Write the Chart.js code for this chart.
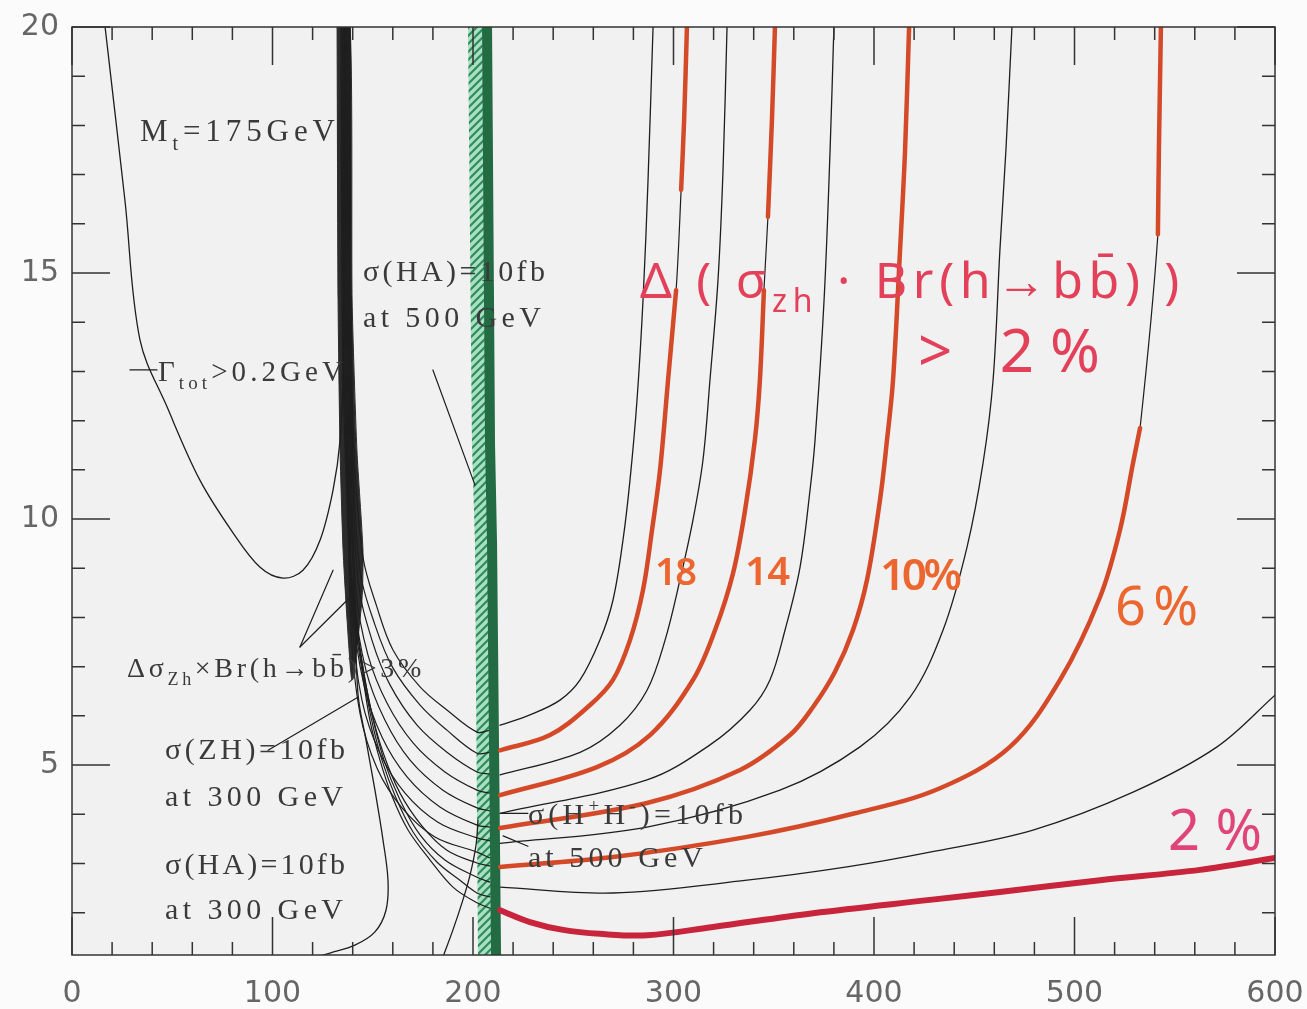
<!DOCTYPE html>
<html>
<head>
<meta charset="utf-8">
<script src="https://cdn.jsdelivr.net/npm/chart.js@4.4.1/dist/chart.umd.min.js"></script>
<style>
  html, body { margin: 0; padding: 0; background: #fbfbfb; }
  canvas { display: block; }
</style>
</head>
<body>
<canvas id="grafico" width="1307" height="1009"></canvas>
<script>
const xTickValues = [0, 100, 200, 300, 400, 500, 600];
const yTickValues = [5, 10, 15, 20];

// Gamma_tot > 0.2 GeV
const gammaTot = [[16.5,20],[26.4,16.48],[33.9,13.64],[47.4,12.28],[63.8,10.79],[80.3,9.72],[93.8,9.02],[105.2,8.80],[115.2,8.96],[123.7,9.57],[130.2,10.59],[133.7,11.6],[135.2,12.97],[135.7,16],[136.2,20]];

// dark band where all contours pile up
const thickBand = [[132.2,20],[132.7,14.45],[133.7,11.40],[135.2,9.37],[137.2,7.95],[139.7,6.73],[144.6,8.35],[145.1,9.37],[142.1,11.40],[139.7,14.45],[138.7,20],[132.2,20]];

// contour fan, left of the green band
const fan20 = [[138.7,20],[139.2,14.45],[140.6,11.40],[145.1,9.23],[152.1,8.21],[160.1,7.34],[173.6,6.59],[187.0,6.12],[202.0,5.67],[208.5,5.71]];
const fan18 = [[138.2,20],[138.7,14.45],[140.1,11.40],[143.6,8.96],[151.1,7.85],[160.1,6.97],[173.6,6.22],[187.0,5.71],[202.0,5.24],[208.5,5.26]];
const fan16 = [[137.7,20],[138.2,14.45],[139.7,11.40],[142.6,8.76],[149.6,7.54],[158.6,6.63],[172.1,5.81],[187.0,5.26],[202.0,4.86],[208.5,4.82]];
const fan14 = [[137.2,20],[137.7,14.45],[139.2,11.40],[141.6,8.56],[147.6,7.24],[157.1,6.26],[170.1,5.45],[186.0,4.86],[202.0,4.49],[208.5,4.43]];
const fan12 = [[136.7,20],[137.2,14.45],[138.7,11.40],[141.1,8.35],[146.6,6.93],[156.1,5.91],[168.6,5.10],[185.0,4.49],[202.0,4.13],[208.5,4.07]];
const fan10 = [[136.2,20],[136.7,14.45],[138.2,11.40],[140.1,8.15],[145.6,6.63],[154.6,5.57],[167.1,4.76],[183.5,4.15],[202.0,3.78],[208.5,3.74]];
const fan8 = [[135.7,20],[136.2,14.45],[137.7,11.40],[139.7,7.95],[144.6,6.32],[153.6,5.24],[166.1,4.43],[182.5,3.84],[202.0,3.52],[208.5,3.46]];
const fan6 = [[135.2,20],[135.7,14.45],[137.2,11.40],[139.2,7.74],[143.6,6.06],[152.1,4.94],[164.6,4.13],[181.0,3.54],[202.0,3.23],[208.5,3.11]];
const fan4 = [[134.7,20],[135.2,14.45],[136.7,11.40],[139.7,8.56],[144.6,7.13],[149.1,6.12],[155.6,5.10],[163.6,4.29],[173.6,3.58],[186.0,3.07],[202.0,2.72],[208.5,2.62]];
const fan2 = [[134.2,20],[134.7,14.45],[136.2,11.40],[139.7,8.35],[144.6,6.93],[148.6,5.91],[153.6,5.10],[159.6,4.37],[167.6,3.68],[178.6,3.07],[190.0,2.52],[202.0,2.20],[208.5,2.09]];
const fanExtraA = [[138.7,9.17],[143.6,7.34],[148.6,6.22],[155.1,5.26],[163.6,4.43],[174.6,3.76],[187.0,3.27],[202.0,3.01],[208.5,2.95]];
const fanExtraB = [[139.2,8.76],[144.6,7.03],[149.1,5.98],[154.6,5.10],[161.6,4.33],[170.1,3.64],[182.0,3.03],[193.5,2.66],[202.0,2.40],[208.5,2.32]];

// contours right of the band: black ones
const right20 = [[213.5,5.81],[228.4,6.02],[243.4,6.32],[253.4,6.73],[263.3,7.54],[269.8,8.35],[274.8,9.57],[278.3,10.79],[281.8,12.42],[284.8,14.45],[287.3,16.89],[289.8,20]];
const right16 = [[213.5,4.80],[253.4,5.26],[273.3,5.81],[286.8,6.52],[295.8,7.54],[303.2,8.76],[309.7,9.98],[314.7,11.20],[318.2,12.83],[322.2,14.86],[324.7,17.09],[326.7,20]];
const right12 = [[213.5,4.02],[286.8,4.70],[318.2,5.41],[338.2,6.12],[348.1,6.73],[355.6,7.74],[363.1,9.02],[368.1,10.59],[370.6,11.61],[375.1,14.45],[378.1,17.50],[380.0,20]];
const right8 = [[213.5,3.41],[286.8,3.74],[353.1,4.49],[393.0,5.37],[418.0,6.38],[434.4,7.74],[446.4,9.43],[454.4,11.14],[459.4,12.83],[462.8,15.47],[465.8,17.50],[468.8,20]];
const right4 = [[213.5,2.52],[269.8,2.40],[336.7,2.66],[386.5,2.93],[427.9,3.23],[479.3,3.68],[529.2,4.45],[571.1,5.37],[600,6.42]];

// hand drawn red contours (y null = pen lifted)
const red18 = [[213.5,5.30],[238.4,5.61],[258.4,6.22],[269.8,6.73],[278.3,7.54],[284.8,8.56],[289.3,9.78],[293.3,11.0],[297.3,12.83],[301.3,14.65],[301.3,null],[303.8,16.69],[305.3,18.11],[306.7,20]];
const red14 = [[213.5,4.39],[261.8,4.96],[288.3,5.61],[309.7,6.73],[320.7,7.74],[329.7,8.90],[335.7,10.18],[340.6,11.61],[343.1,12.83],[345.1,14.65],[345.1,null],[347.1,16.14],[349.1,18.11],[350.6,20]];
const red10 = [[213.5,3.72],[286.8,4.23],[333.2,4.90],[358.1,5.61],[369.6,6.18],[380.5,6.89],[389.5,7.74],[396.5,8.76],[403.0,10.39],[406.5,11.61],[409.5,12.83],[413.0,15.47],[415.5,17.50],[417.5,20]];
const red6 = [[213.5,2.93],[269.8,3.13],[336.7,3.54],[390.5,4.02],[432.9,4.53],[467.8,5.37],[492.8,6.73],[512.7,8.41],[522.7,9.78],[529.2,11.14],[532.7,11.85],[532.7,null],[541.6,15.79],[542.1,17.50],[543.1,20]];
const red2 = [[213.5,2.05],[228.4,1.81],[244.9,1.65],[263.3,1.57],[286.8,1.54],[319.7,1.71],[369.6,1.99],[427.9,2.26],[462.8,2.42],[512.7,2.66],[562.6,2.87],[600,3.11]];

// cross section curves
const sigmaZH300 = [[136.7,11.61],[139.7,9.57],[141.1,8.35],[142.6,6.46],[146.6,5.51],[151.1,4.49],[155.1,3.48],[157.6,2.66],[156.6,2.05],[151.1,1.61],[141.1,1.34],[128.7,1.18],[122.2,1.10]];
const sigmaHA300 = [[202.5,3.88],[201.5,3.37],[198.5,2.76],[194.5,2.20],[190.0,1.65],[185.0,1.10]];
const hatchBand = [[197.5,20],[199.5,11.5],[201,9.5],[202.5,1.14],[209.3,1.14],[207.3,9.5],[206.3,11.5],[204.8,20],[197.5,20]];
const greenLine = [[207,20],[208.5,11.5],[209.5,9.5],[211.5,1.14]];

// label pointers
const pointers = [
  [[28.9,13.03],[42.4,13.03]],
  [[113.7,7.40],[130.2,8.96]],
  [[113.7,7.40],[138.7,8.41]],
  [[97.8,5.30],[142.6,6.38]],
  [[180.0,13.03],[201.0,10.69]],
  [[213.5,4.02],[227.4,4.02]],
  [[215.0,3.56],[227.4,3.35]]
];

const INK = '#3a3a3a';
const PEN = '#e3405a';
const ORANGE = '#ec6630';
const notes = [
  {x: 33.9, y: 17.68, runs: [['M'], ['t', 'sub'], ['=175GeV']], size: 31, w: 195},
  {x: 145.1, y: 14.84, runs: [['σ(HA)=10fb']], size: 30, w: 182},
  {x: 145.1, y: 13.90, runs: [['at 500 GeV']], size: 30, w: 178},
  {x: 42.9, y: 12.80, runs: [['Γ'], ['tot', 'sub'], ['>0.2GeV']], size: 29, w: 185},
  {x: 27.4, y: 6.79, runs: [['Δσ'], ['Zh', 'sub'], ['×Br(h→bb\u0304)>3%']], size: 28, w: 298},
  {x: 46.4, y: 5.12, runs: [['σ(ZH)=10fb']], size: 30, w: 180},
  {x: 46.4, y: 4.17, runs: [['at 300 GeV']], size: 30, w: 178},
  {x: 46.4, y: 2.78, runs: [['σ(HA)=10fb']], size: 30, w: 180},
  {x: 46.4, y: 1.87, runs: [['at 300 GeV']], size: 30, w: 178},
  {x: 227.4, y: 3.80, runs: [['σ(H'], ['+', 'sup'], ['H'], ['-', 'sup'], [')=10fb']], size: 30, w: 215},
  {x: 227.4, y: 2.93, runs: [['at 500 GeV']], size: 30, w: 175},
  {x: 283.3, y: 14.49, runs: [['Δ ( σ'], ['zh', 'sub'], [' · Br(h→bb\u0304) )']], size: 50, w: 545, color: PEN, font: 'Noto Sans'},
  {x: 421.9, y: 12.99, runs: [['> 2%']], size: 60, w: 182, color: PEN, font: 'Noto Sans'},
  {x: 290.8, y: 8.66, runs: [['18']], size: 38, w: 42, color: ORANGE, font: 'Noto Sans', weight: 600},
  {x: 335.7, y: 8.66, runs: [['14']], size: 40, w: 45, color: ORANGE, font: 'Noto Sans', weight: 600},
  {x: 403.0, y: 8.56, runs: [['10%']], size: 44, w: 82, color: ORANGE, font: 'Noto Sans', weight: 600},
  {x: 520.2, y: 7.85, runs: [['6%']], size: 54, w: 83, color: ORANGE, font: 'Noto Sans'},
  {x: 546.6, y: 3.27, runs: [['2%']], size: 56, w: 94, color: '#e0457a', font: 'Noto Sans'}
];

function hatchPattern() {
  const c = document.createElement('canvas');
  c.width = 8; c.height = 8;
  const g = c.getContext('2d');
  g.fillStyle = '#a9dfc2';
  g.fillRect(0, 0, 8, 8);
  g.strokeStyle = '#2f8d5c';
  g.lineWidth = 2.2;
  g.beginPath();
  g.moveTo(0, 8); g.lineTo(8, 0);
  g.moveTo(-2, 2); g.lineTo(2, -2);
  g.moveTo(6, 10); g.lineTo(10, 6);
  g.stroke();
  return g.createPattern(c, 'repeat');
}

function line(arr, color, width, extra) {
  return Object.assign({
    data: arr.map(p => ({x: p[0], y: p[1]})),
    showLine: true,
    borderColor: color,
    borderWidth: width,
    pointRadius: 0,
    tension: 0.35,
    fill: false,
    spanGaps: false,
    borderCapStyle: 'round',
    borderJoinStyle: 'round'
  }, extra || {});
}

const BLACK = '#1e1e1e';
const RED = '#d44a28';
const solid = arr => arr.filter(p => p[1] !== null);

const datasets = [];
datasets.push(line(hatchBand, 'rgba(0,0,0,0)', 0, {fill: 'shape', backgroundColor: hatchPattern(), tension: 0}));
datasets.push(line(thickBand, '#2b2b2b', 1, {fill: 'shape', backgroundColor: '#2b2b2b', tension: 0.2}));
datasets.push(line(gammaTot, BLACK, 1.3));
[fan20, fan18, fan16, fan14, fan12, fan10, fan8, fan6, fan4, fan2, fanExtraA, fanExtraB].forEach(f => datasets.push(line(f, BLACK, 1.2)));
[right20, right16, right12, right8, right4].forEach(r => datasets.push(line(r, BLACK, 1.3)));
[red18, red14, red10, red6, red2].forEach(r => datasets.push(line(solid(r), BLACK, 1.2)));
datasets.push(line(sigmaZH300, BLACK, 1.3));
datasets.push(line(sigmaHA300, BLACK, 1.3));
pointers.forEach(p => datasets.push(line(p, BLACK, 1.2, {tension: 0})));
datasets.push(line(greenLine, '#226b43', 10, {tension: 0, borderCapStyle: 'butt'}));
[red18, red14, red10, red6].forEach(r => datasets.push(line(r, RED, 4.5)));
datasets.push(line(red2, '#c8243c', 6));
datasets.forEach((d, i) => { d.order = datasets.length - i; });

const frameAndTicks = {
  id: 'frameAndTicks',
  beforeDraw(chart) {
    const a = chart.chartArea, ctx = chart.ctx;
    ctx.save();
    ctx.fillStyle = '#f1f1f1';
    ctx.fillRect(a.left, a.top, a.right - a.left, a.bottom - a.top);
    ctx.restore();
  },
  afterDraw(chart) {
    const a = chart.chartArea, ctx = chart.ctx;
    const sx = chart.scales.x, sy = chart.scales.y;
    ctx.save();
    ctx.strokeStyle = '#333';
    ctx.lineWidth = 1.5;
    ctx.strokeRect(a.left, a.top, a.right - a.left, a.bottom - a.top);
    ctx.beginPath();
    for (let v = 0; v <= 600; v += 20) {
      const len = xTickValues.includes(v) ? 38 : 13;
      const px = sx.getPixelForValue(v);
      ctx.moveTo(px, a.bottom); ctx.lineTo(px, a.bottom - len);
      ctx.moveTo(px, a.top); ctx.lineTo(px, a.top + len);
    }
    for (let v = 2; v <= 20; v += 1) {
      const len = yTickValues.includes(v) ? 38 : 13;
      const py = sy.getPixelForValue(v);
      ctx.moveTo(a.left, py); ctx.lineTo(a.left + len, py);
      ctx.moveTo(a.right, py); ctx.lineTo(a.right - len, py);
    }
    ctx.stroke();

    ctx.textBaseline = 'alphabetic';
    notes.forEach(n => {
      const family = n.font || 'Liberation Serif';
      const fontFor = r => (n.weight || 400) + ' ' + (r[1] ? Math.round(n.size * 0.64) : n.size) + 'px "' + family + '"';
      let natural = 0, count = 0;
      ctx.letterSpacing = '0px';
      n.runs.forEach(r => {
        ctx.font = fontFor(r);
        natural += ctx.measureText(r[0]).width;
        count += [...r[0]].length;
      });
      const gap = (n.w - natural) / Math.max(1, count - 1);
      ctx.letterSpacing = gap.toFixed(2) + 'px';
      ctx.fillStyle = n.color || INK;
      let cx = sx.getPixelForValue(n.x);
      const base = sy.getPixelForValue(n.y);
      n.runs.forEach(r => {
        ctx.font = fontFor(r);
        const dy = r[1] === 'sub' ? n.size * 0.28 : r[1] === 'sup' ? -n.size * 0.42 : 0;
        ctx.fillText(r[0], cx, base + dy);
        cx += ctx.measureText(r[0]).width;
      });
    });
    ctx.restore();
  }
};

new Chart(document.getElementById('grafico'), {
  type: 'scatter',
  data: { datasets: datasets },
  options: {
    responsive: false,
    animation: false,
    layout: { padding: { top: 27, right: 32, left: 0, bottom: 0 } },
    plugins: { legend: { display: false }, tooltip: { enabled: false } },
    scales: {
      x: {
        type: 'linear', min: 0, max: 600,
        grid: { display: false, drawTicks: true, tickLength: 20 },
        border: { display: false },
        ticks: { color: '#666', padding: 1, font: { family: 'DejaVu Sans', size: 30 } },
        afterBuildTicks: s => { s.ticks = xTickValues.map(v => ({value: v})); },
        afterFit: s => { s.height = 54; }
      },
      y: {
        type: 'linear', min: 1.14, max: 20,
        grid: { display: false, drawTicks: true, tickLength: 12 },
        border: { display: false },
        ticks: { color: '#666', padding: 1, font: { family: 'DejaVu Sans', size: 30 } },
        afterBuildTicks: s => { s.ticks = yTickValues.map(v => ({value: v})); },
        afterFit: s => { s.width = 72; }
      }
    }
  },
  plugins: [frameAndTicks]
});
</script>
</body>
</html>
